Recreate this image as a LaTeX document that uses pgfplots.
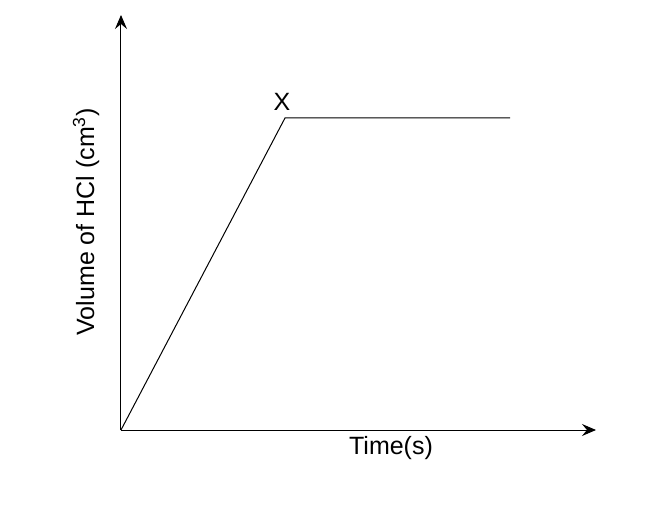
\documentclass[border=0pt]{standalone}
\usepackage{fontspec}
\setmainfont{Liberation Sans}
\usepackage{pgfplots}
\pgfplotsset{compat=1.18}
\usetikzlibrary{arrows.meta}
\begin{document}
\begin{tikzpicture}
\begin{axis}[
  x=1pt, y=1pt,
  xmin=0, xmax=475, ymin=0, ymax=415,
  axis lines=left,
  axis line style={line width=1pt, -{Stealth[length=14pt,width=12pt,inset=5pt]}},
  ticks=none,
  clip=false,
]
\addplot[black, line width=1pt] coordinates {(0,0) (164,312) (389,312)};
\node[font=\fontsize{25}{29}\selectfont] at (axis cs:161,328) {X};
\node[font=\fontsize{25}{29}\selectfont] at (axis cs:270,-18) {Time(s)};
\node[font=\fontsize{25}{29}\selectfont, rotate=90] at (axis cs:-35,208) {Volume of HCl (cm\textsuperscript{3})};
\coordinate (bl) at (axis cs:-121,-74);
\coordinate (tr) at (axis cs:525,430);
\end{axis}
\path (bl) rectangle (tr);
\end{tikzpicture}
\end{document}
